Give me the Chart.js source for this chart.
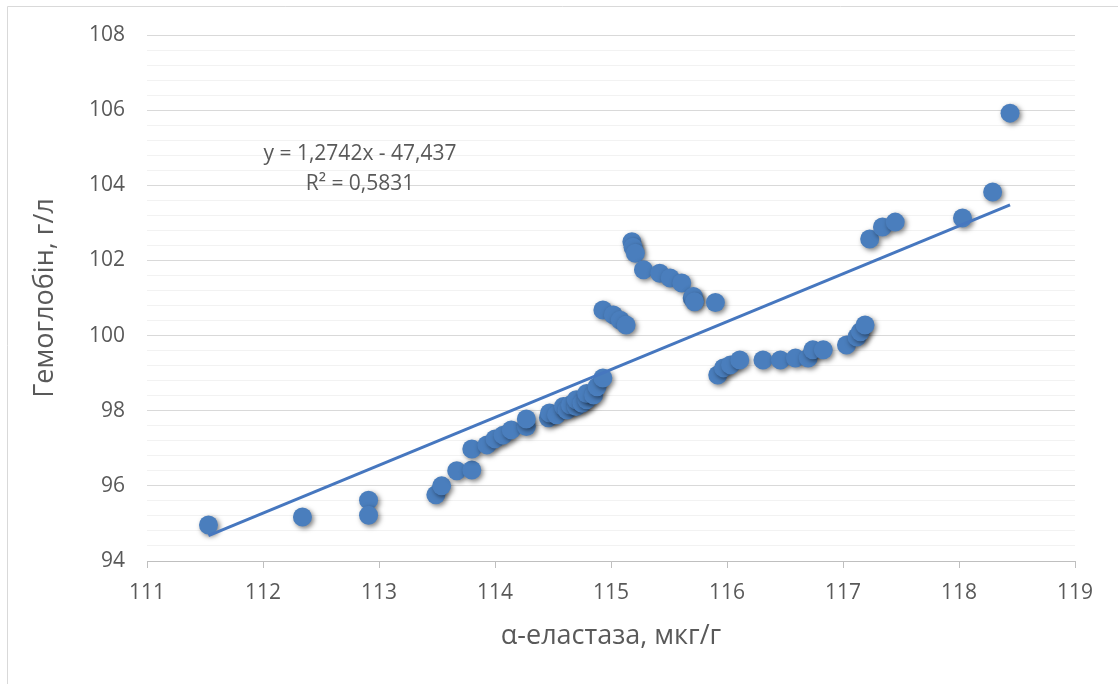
<!DOCTYPE html>
<html>
<head>
<meta charset="utf-8">
<script src="https://cdn.jsdelivr.net/npm/chart.js@4"></script>
<style>
  html, body { margin: 0; padding: 0; background: #fff; }
  #wrap { width: 1118px; height: 684px; }
</style>
</head>
<body>
<div id="wrap"><canvas id="elastaseChart" width="1118" height="684"></canvas></div>
<script>
// α-еластаза, мкг/г
const elastase = [
    111.53, 112.34, 112.91, 112.91, 113.49, 113.54, 113.67, 113.80, 113.80, 113.93,
    114.00, 114.07, 114.14, 114.27, 114.27, 114.46, 114.47, 114.53, 114.59, 114.62,
    114.65, 114.70, 114.70, 114.75, 114.79, 114.79, 114.85, 114.88, 114.93, 114.93,
    115.02, 115.08, 115.13, 115.18, 115.19, 115.21, 115.28, 115.42, 115.51, 115.61,
    115.70, 115.71, 115.72, 115.90, 115.92, 115.97, 116.03, 116.11, 116.31, 116.46,
    116.59, 116.70, 116.74, 116.83, 117.03, 117.12, 117.15, 117.19, 117.23, 117.34,
    117.45, 118.03, 118.29, 118.44
];
// Гемоглобін, г/л
const hemoglobin = [
    94.96, 95.17, 95.62, 95.22, 95.76, 96.00, 96.40, 96.42, 96.98, 97.09,
    97.25, 97.35, 97.49, 97.58, 97.78, 97.81, 97.94, 97.89, 98.11, 98.02,
    98.15, 98.11, 98.29, 98.20, 98.29, 98.46, 98.42, 98.64, 98.87, 100.68,
    100.55, 100.41, 100.28, 102.50, 102.35, 102.19, 101.75, 101.66, 101.53, 101.40,
    101.00, 101.04, 100.90, 100.88, 98.95, 99.14, 99.22, 99.35, 99.35, 99.35,
    99.40, 99.40, 99.62, 99.62, 99.75, 99.96, 100.10, 100.28, 102.57, 102.89,
    103.02, 103.13, 103.82, 105.92
];
// linear trend from the chart label
const trendSlope = 1.2742;
const trendIntercept = -47.437;
const trendText = ['y = 1,2742x - 47,437', 'R² = 0,5831'];

const xMin = 111, xMax = 119;
const yMin = 94, yMax = 108;

const blue = '#4a7ebd';
const textGrey = '#595959';

const points = elastase.map((x, i) => ({x: x, y: hemoglobin[i]}));
const x0 = Math.min(...elastase), x1 = Math.max(...elastase);
const trend = [x0, x1].map(x => ({x: x, y: trendSlope * x + trendIntercept}));

const isMajor = v => Math.abs(v / 2 - Math.round(v / 2)) < 1e-6;

const shadowPlugin = {
    id: 'dotShadow',
    beforeDatasetDraw(chart, args) {
        if (args.index !== 0) return;
        const ctx = chart.ctx;
        ctx.save();
        ctx.shadowColor = 'rgba(0, 0, 0, 0.5)';
        ctx.shadowBlur = 5;
        ctx.shadowOffsetX = 2;
        ctx.shadowOffsetY = 2;
    },
    afterDatasetDraw(chart, args) {
        if (args.index === 0) chart.ctx.restore();
    }
};

const framePlugin = {
    id: 'frame',
    beforeDraw(chart) {
        const ctx = chart.ctx;
        ctx.save();
        ctx.strokeStyle = '#d9d9d9';
        ctx.lineWidth = 1;
        ctx.beginPath();
        ctx.moveTo(7.5, chart.height);
        ctx.lineTo(7.5, 6.5);
        ctx.lineTo(chart.width, 6.5);
        ctx.stroke();
        ctx.restore();
    }
};

const labelPlugin = {
    id: 'trendLabel',
    afterDraw(chart) {
        const ctx = chart.ctx;
        const area = chart.chartArea;
        ctx.save();
        ctx.fillStyle = textGrey;
        ctx.font = '21px "Open Sans"';
        ctx.textAlign = 'center';
        ctx.textBaseline = 'middle';
        ctx.fillText(trendText[0], area.left + 213, area.top + 119);
        ctx.fillText(trendText[1], area.left + 213, area.top + 149);
        ctx.restore();
    }
};

Chart.defaults.font.family = '"Open Sans", sans-serif';
Chart.defaults.color = textGrey;

new Chart(document.getElementById('elastaseChart'), {
    type: 'scatter',
    data: {
        datasets: [
            {
                label: 'Гемоглобін',
                data: points,
                backgroundColor: blue,
                borderColor: blue,
                borderWidth: 0,
                pointRadius: 9.5,
                pointHoverRadius: 9.5,
                order: 2
            },
            {
                label: 'Лінійний тренд',
                type: 'line',
                data: trend,
                borderColor: '#4677bf',
                borderWidth: 3,
                pointRadius: 0,
                fill: false,
                order: 1
            }
        ]
    },
    options: {
        responsive: false,
        animation: false,
        layout: {padding: {left: 8, top: 35, right: 43, bottom: 0}},
        plugins: {
            legend: {display: false},
            tooltip: {enabled: false}
        },
        scales: {
            x: {
                type: 'linear',
                min: xMin,
                max: xMax,
                afterFit(scale) { scale.height = 123; },
                ticks: {stepSize: 1, padding: 12, font: {size: 21}, color: textGrey},
                grid: {drawOnChartArea: false, drawTicks: true, tickLength: 7, color: '#bfbfbf'},
                border: {color: '#bfbfbf', width: 1},
                title: {
                    display: true,
                    text: 'α-еластаза, мкг/г',
                    font: {size: 27},
                    color: textGrey,
                    padding: {top: 0, bottom: 31}
                }
            },
            y: {
                min: yMin,
                max: yMax,
                afterFit(scale) { scale.width = 139; },
                ticks: {
                    stepSize: 0.4,
                    autoSkip: false,
                    padding: 22,
                    font: {size: 21},
                    color: textGrey,
                    callback: v => isMajor(v) ? Math.round(v) : ''
                },
                grid: {
                    drawTicks: false,
                    color: ctx => isMajor(ctx.tick.value) ? '#d9d9d9' : '#f2f2f2',
                    lineWidth: 1
                },
                border: {display: false},
                title: {
                    display: true,
                    text: 'Гемоглобін, г/л',
                    font: {size: 27},
                    color: textGrey,
                    padding: {top: 21, bottom: 0}
                }
            }
        }
    },
    plugins: [framePlugin, shadowPlugin, labelPlugin]
});
</script>
</body>
</html>
